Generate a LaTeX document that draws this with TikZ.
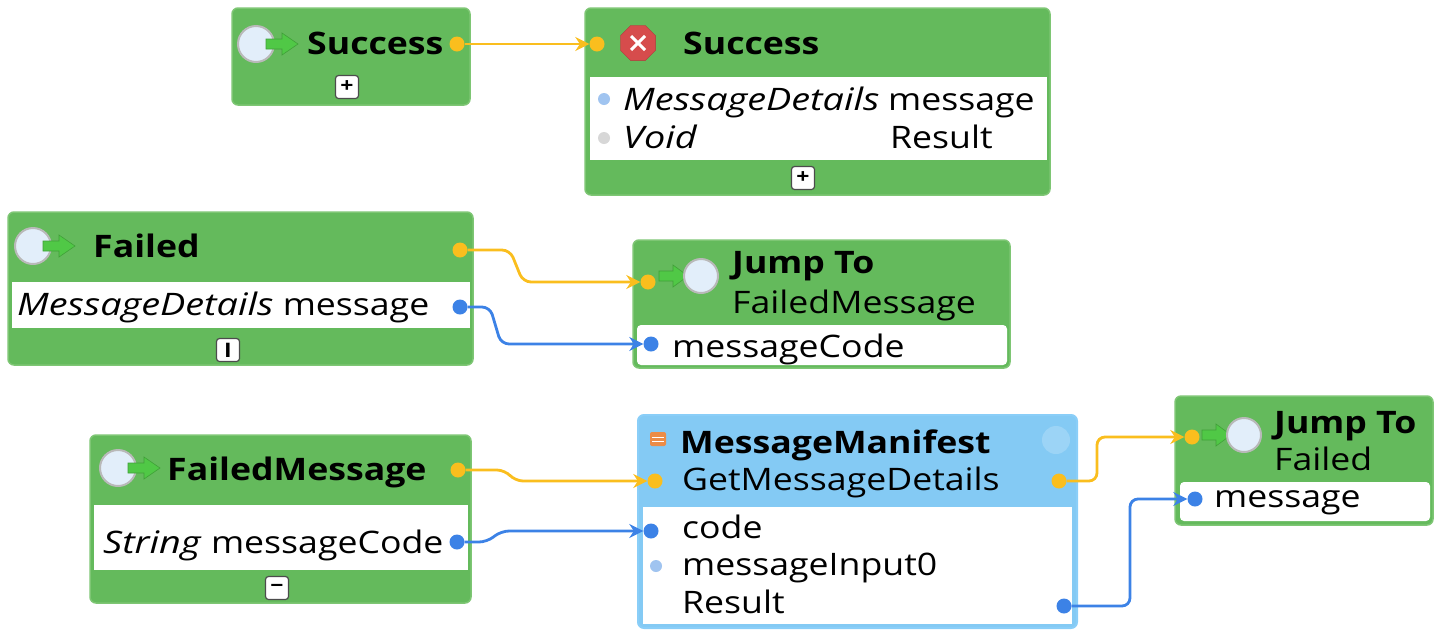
\documentclass[tikz,border=0pt]{standalone}
\usepackage{fontspec}
\setmainfont[FakeStretch=1.15, ItalicFeatures={FakeStretch=1.22}, BoldItalicFeatures={FakeStretch=1.22}]{Open Sans}
\usetikzlibrary{calc}
\usetikzlibrary{positioning}
\usetikzlibrary{arrows.meta}
\usetikzlibrary{shapes.geometric}
\definecolor{custom-green}{RGB}{100, 186, 92}
\definecolor{custom-green-edge}{RGB}{126, 198, 116}
\definecolor{custom-blue}{RGB}{132, 202, 244}
\definecolor{custom-blue-edge}{RGB}{138, 206, 248}
\definecolor{custom-yellow}{RGB}{250, 190, 30}
\definecolor{custom-link}{RGB}{60, 130, 230}
\definecolor{custom-pale}{RGB}{160, 196, 240}
\definecolor{custom-grey}{RGB}{215, 215, 215}
\definecolor{custom-red}{RGB}{214, 76, 76}
\definecolor{custom-orb}{RGB}{226, 238, 250}
\definecolor{custom-arrow}{RGB}{80, 200, 70}
\definecolor{custom-orange}{RGB}{236, 140, 70}

\tikzset{
  port-y/.style={circle, fill=custom-yellow, inner sep=0pt, minimum size=15pt},
  port-b/.style={circle, fill=custom-link, inner sep=0pt, minimum size=15pt},
  port-pale/.style={circle, fill=#1, inner sep=0pt, minimum size=12pt},
  flow-y/.style={draw=custom-yellow, line width=2.8pt, rounded corners=8pt, -{Stealth[length=14pt,width=14pt]}},
  flow-b/.style={draw=custom-link, line width=2.8pt, rounded corners=8pt, -{Stealth[length=14pt,width=14pt]}},
  head/.style={anchor=base west, inner sep=0pt, font=\bfseries\fontsize{31}{36}\selectfont},
  txt/.style={anchor=base west, inner sep=0pt, font=\fontsize{31}{36}\selectfont},
  button/.style={draw=gray!60!black, line width=1.2pt, fill=white, rounded corners=3pt, minimum size=23pt, inner sep=0pt, font=\bfseries\fontsize{20}{20}\selectfont},
  green-box/.style={fill=custom-green, draw=custom-green-edge, line width=1.5pt, rounded corners=6pt},
  start-icon/.pic={
    \filldraw[fill=custom-orb, draw=gray!55, line width=2pt] (0,0) circle (18pt);
    \filldraw[fill=custom-arrow, draw=custom-arrow!80!black, line width=0.6pt] (10,-5) -- (26,-5) -- (26,-11) -- (42,0) -- (26,11) -- (26,5) -- (10,5) -- cycle;
  },
  jump-icon/.pic={
    \filldraw[fill=custom-arrow, draw=custom-arrow!80!black, line width=0.6pt] (-42,-5) -- (-28,-5) -- (-28,-11) -- (-13,0) -- (-28,11) -- (-28,5) -- (-42,5) -- cycle;
    \filldraw[fill=custom-orb, draw=gray!55, line width=2pt] (0,0) circle (17pt);
  }
}

\begin{document}
\begin{tikzpicture}[x=1pt, y=-1pt]
\useasboundingbox (0,0) rectangle (1434,630);
% Success start
\filldraw[green-box] (232,8) rectangle (470,105);
\pic at (256,44) {start-icon};
\node[head] (succ-title) at (307,54) {Success};
\node[port-y] (succ-out) at (457,44) {};
\node[button] (succ-btn) at (347,87) {+};
% Success end
\filldraw[green-box] (585,8) rectangle (1050,195);
\fill[white] (590,77) rectangle (1047,160);
\node[regular polygon, regular polygon sides=8, fill=custom-red, draw=custom-red!80!black, minimum size=38pt, inner sep=0pt] (succ-x) at (638,43) {};
\draw[white, line width=3pt] ($(succ-x)+(-7,-7)$) -- ($(succ-x)+(7,7)$) ($(succ-x)+(-7,7)$) -- ($(succ-x)+(7,-7)$);
\node[head] (end-title) at (683,54) {Success};
\node[port-y] (succ-in) at (597,44) {};
\node[port-pale=custom-pale] (end-msg-dot) at (604,99) {};
\node[port-pale=custom-grey] (end-res-dot) at (604,138) {};
\node[txt] (end-msg-type) at (623,110) {\itshape MessageDetails};
\node[txt] (end-msg-name) at (888,110) {message};
\node[txt] (end-res-type) at (623,148) {\itshape Void};
\node[txt] (end-res-name) at (890,148) {Result};
\node[button] (end-btn) at (803,178) {+};
\draw[flow-y] (succ-out) -- (succ-in);
% Failed
\filldraw[green-box] (8,212) rectangle (473,365);
\fill[white] (12,282) rectangle (470,328);
\pic at (33,246) {start-icon};
\node[head] (fail-title) at (93,257) {Failed};
\node[txt] (fail-msg-text) at (17,315) {\textit{MessageDetails} message};
\node[port-y] (fail-out) at (460,250) {};
\node[port-b] (fail-msg) at (460,307) {};
\node[button] (fail-btn) at (228,350) {I};
% Jump To FailedMessage
\filldraw[green-box] (633,240) rectangle (1010,368);
\fill[white, rounded corners=4pt] (637,325) rectangle (1007,365);
\pic at (701,276) {jump-icon};
\node[head] (jmp-title) at (732,273) {Jump To};
\node[txt] (jmp-target) at (732,313) {FailedMessage};
\node[port-y] (jmp-in) at (648,282) {};
\node[port-b] (jmp-code) at (651,344) {};
\node[txt] (jmp-code-text) at (672,357) {messageCode};
\draw[flow-y] (fail-out) -- ++(50,0) -- ($(jmp-in)+(-125,0)$) -- (jmp-in);
\draw[flow-b] (fail-msg) -- ++(30,0) -- ($(jmp-code)+(-150,0)$) -- (jmp-code);
% FailedMessage
\filldraw[green-box] (90,435) rectangle (471,603);
\fill[white] (94,505) rectangle (468,570);
\pic at (118,468) {start-icon};
\node[head] (fm-title) at (167,480) {FailedMessage};
\node[txt] (fm-code-text) at (103,553) {\textit{String} messageCode};
\node[port-y] (fm-out) at (458,470) {};
\node[port-b] (fm-code) at (457,542) {};
\node[button] (fm-btn) at (277,588) {−};
% MessageManifest
\filldraw[fill=custom-blue, draw=custom-blue-edge, line width=2pt, rounded corners=6pt] (638,415) rectangle (1077,628);
\fill[white] (643,507) rectangle (1072,624);
\fill[white, opacity=0.2] (1056,440) circle (14pt);
\fill[custom-orange, rounded corners=2pt] (650,432) rectangle (666,446);
\draw[white, line width=1pt] (652,437) -- (664,437) (652,441) -- (664,441);
\node[head] (mm-title) at (680,453) {MessageManifest};
\node[txt] (mm-call) at (682,490) {GetMessageDetails};
\node[txt] (mm-code-text) at (682,538) {code};
\node[txt] (mm-input-text) at (682,575) {messageInput0};
\node[txt] (mm-result-text) at (682,613) {Result};
\node[port-y] (mm-in) at (655,481) {};
\node[port-y] (mm-out) at (1059,481) {};
\node[port-b] (mm-code) at (651,531) {};
\node[port-pale=custom-pale] (mm-input) at (656,566) {};
\node[port-b] (mm-result) at (1064,606) {};
\draw[flow-y] (fm-out) -- ++(47,0) -- ($(mm-in)+(-140,0)$) -- (mm-in);
\draw[flow-b] (fm-code) -- ++(30,0) -- ($(mm-code)+(-150,0)$) -- (mm-code);
% Jump To Failed
\filldraw[green-box] (1175,396) rectangle (1433,525);
\fill[white, rounded corners=4pt] (1180,482) rectangle (1430,521);
\pic at (1244,435) {jump-icon};
\node[head] (jf-title) at (1274,433) {Jump To};
\node[txt] (jf-target) at (1274,470) {Failed};
\node[port-y] (jf-in) at (1192,437) {};
\node[port-b] (jf-msg) at (1195,499) {};
\node[txt] (jf-msg-text) at (1214,507) {message};
\draw[flow-y] (mm-out) -- ++(38,0) |- (jf-in);
\draw[flow-b] (mm-result) -- ++(66,0) |- (jf-msg);
\end{tikzpicture}
\end{document}
